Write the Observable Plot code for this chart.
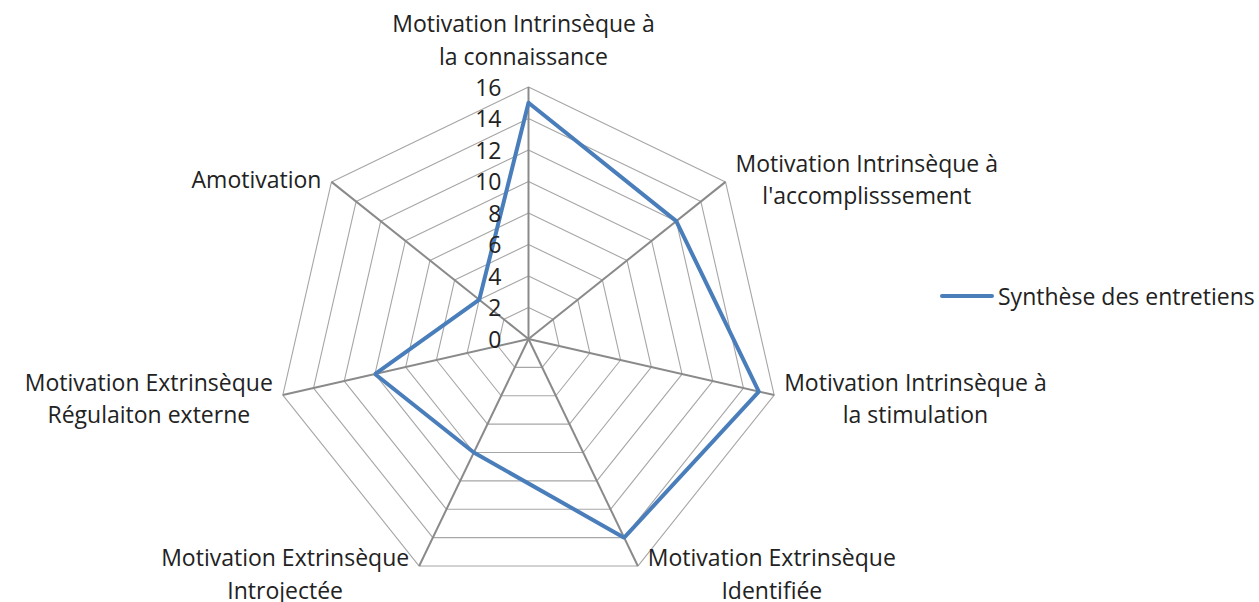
<!DOCTYPE html>
<html><head><meta charset="utf-8">
<script src="https://cdn.jsdelivr.net/npm/d3@7"></script>
<script src="https://cdn.jsdelivr.net/npm/@observablehq/plot@0.6"></script>
<style>
body{margin:0;background:#fff;font-family:"Open Sans", Lato, sans-serif;}
#wrap{position:relative;width:1259px;height:602px;overflow:hidden}
#legend{position:absolute;left:940px;top:280px;display:flex;align-items:center;font-size:23px;color:#222;white-space:nowrap}
#legend .sw{display:inline-block;width:54px;height:4px;background:#4a7ebb;border-radius:2px;margin-right:4px}
</style></head>
<body><div id="wrap"><div id="chart"></div><div id="legend"><span class="sw"></span><span id="legtext"></span></div></div>
<script>
// ---- data ----
const categories = [
  "Motivation Intrinsèque à\nla connaissance",
  "Motivation Intrinsèque à\nl'accomplisssement",
  "Motivation Intrinsèque à\nla stimulation",
  "Motivation Extrinsèque\nIdentifiée",
  "Motivation Extrinsèque\nIntrojectée",
  "Motivation Extrinsèque\nRégulaiton externe",
  "Amotivation"
];
const values = [15, 12, 15, 14, 8, 10, 4];
const ticks = [0, 2, 4, 6, 8, 10, 12, 14, 16];
const seriesName = "Synthèse des entretiens";

// ---- geometry ----
const W = 1259, H = 602;
const cx = 528, cy = 338.5, R = 252;
const maxV = ticks[ticks.length - 1];
const unit = R / maxV; // px per data unit
const n = categories.length;
const ang = i => i * 2 * Math.PI / n;
const pt = (i, v) => [v * Math.sin(ang(i)), v * Math.cos(ang(i))];

const FS = 23;
const FONT = FS + "px 'Open Sans'";
const ctx = document.createElement("canvas").getContext("2d");
ctx.font = FONT;
const textW = s => Math.max(...s.split("\n").map(l => ctx.measureText(l).width));

// rings
const rings = [];
ticks.filter(t => t > 0).forEach(t => {
  for (let i = 0; i <= n; i++) {
    const [x, y] = pt(i % n, t);
    rings.push({t, x, y});
  }
});
// spokes
const spokes = categories.map((c, i) => {
  const [x2, y2] = pt(i, maxV);
  return {x1: 0, y1: 0, x2, y2};
});
// series
const series = [];
for (let i = 0; i <= n; i++) {
  const [x, y] = pt(i % n, values[i % n]);
  series.push({x, y, name: seriesName});
}
// axis labels
const gap = 10;
const labels = categories.map((c, i) => {
  const a = ang(i);
  const [tx, ty] = pt(i, maxV);
  const s = Math.sin(a), co = Math.cos(a);
  if (Math.abs(s) < 0.05) {
    return {text: c, x: tx - 5 / unit, y: ty + 22 / unit, anchor: "bottom"};
  }
  const hw = textW(c) / 2;
  const x = tx + Math.sign(s) * (gap + hw) / unit;
  const y = ty + (co * 7) / unit;
  return {text: c, x, y, anchor: "middle"};
});
const tickLabels = ticks.map(t => ({t, x: -27 / unit, y: t - 1.5 / unit}));

const xDomain = [-cx / unit, (W - cx) / unit];
const yDomain = [-(H - cy) / unit, cy / unit];

const chart = Plot.plot({
  width: W, height: H, margin: 0,
  style: {fontFamily: "'Open Sans', sans-serif", background: "#fff", overflow: "visible"},
  x: {domain: xDomain, axis: null},
  y: {domain: yDomain, axis: null},
  marks: [
    Plot.line(rings, {x: "x", y: "y", z: "t", stroke: "#a6a6a6", strokeWidth: 1.1}),
    Plot.link(spokes, {x1: "x1", y1: "y1", x2: "x2", y2: "y2", stroke: "#8a8a8a", strokeWidth: 2}),
    Plot.line(series, {x: "x", y: "y", stroke: "#4a7ebb", strokeWidth: 4, strokeLinejoin: "miter", strokeLinecap: "round"}),
    Plot.text(labels.filter(d => d.anchor === "bottom"), {x: "x", y: "y", text: "text", textAnchor: "middle", lineAnchor: "bottom", lineHeight: 1.42, fontSize: FS, fill: "#222"}),
    Plot.text(labels.filter(d => d.anchor === "middle"), {x: "x", y: "y", text: "text", textAnchor: "middle", lineAnchor: "middle", lineHeight: 1.42, fontSize: FS, fill: "#222"}),
    Plot.text(tickLabels, {x: "x", y: "y", text: d => String(d.t), textAnchor: "end", fontSize: FS, fill: "#222"})
  ]
});
document.getElementById("chart").appendChild(chart);
document.getElementById("legtext").textContent = seriesName;
</script>
</body></html>
